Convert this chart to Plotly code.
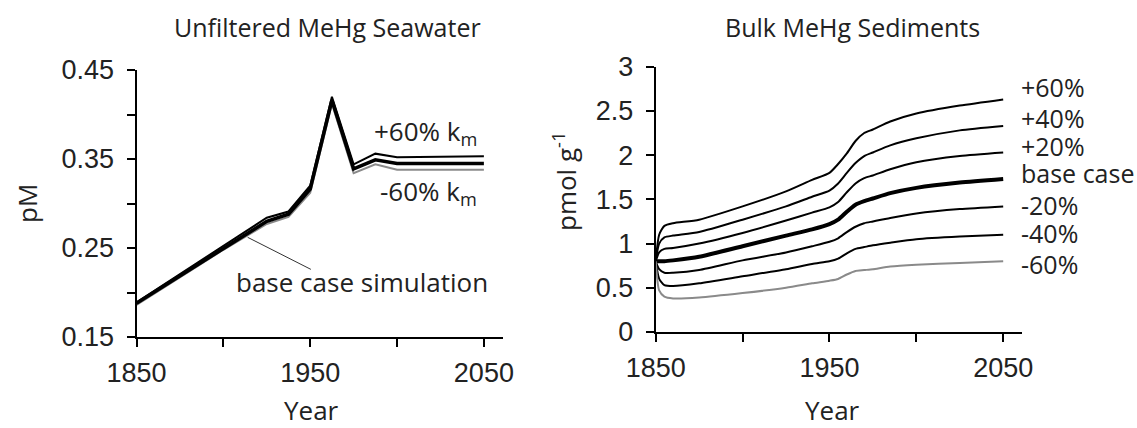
import plotly.graph_objects as go

W, H = 1137, 428

# ---- Left panel: Unfiltered MeHg Seawater (pM) ----
sw_years = [1850, 1875, 1900, 1925, 1937.5, 1950, 1962.5, 1975, 1987.5, 2000, 2050]
sw_plus60 = [0.189, 0.221, 0.252, 0.284, 0.291, 0.320, 0.420, 0.344, 0.356, 0.352, 0.353]
sw_base = [0.188, 0.219, 0.250, 0.280, 0.288, 0.316, 0.416, 0.339, 0.349, 0.345, 0.345]
sw_minus60 = [0.186, 0.217, 0.248, 0.277, 0.285, 0.312, 0.412, 0.334, 0.344, 0.338, 0.338]

# ---- Right panel: Bulk MeHg Sediments (pmol g-1) ----
sed_years = [1850, 1852, 1855, 1860, 1875, 1900, 1925, 1940, 1950, 1955, 1960,
             1965, 1970, 1975, 1985, 2000, 2025, 2050]
sed_plus60 = [0.80, 1.10, 1.20, 1.23, 1.27, 1.42, 1.59, 1.72, 1.80, 1.90, 2.02,
              2.16, 2.25, 2.29, 2.38, 2.47, 2.56, 2.63]
sed_plus40 = [0.80, 1.00, 1.07, 1.09, 1.13, 1.27, 1.42, 1.53, 1.60, 1.68, 1.80,
              1.91, 1.99, 2.03, 2.11, 2.19, 2.28, 2.33]
sed_plus20 = [0.80, 0.90, 0.94, 0.95, 1.00, 1.12, 1.26, 1.35, 1.41, 1.47, 1.58,
              1.68, 1.74, 1.77, 1.84, 1.92, 1.99, 2.03]
sed_base = [0.80, 0.80, 0.80, 0.81, 0.85, 0.97, 1.09, 1.16, 1.22, 1.27, 1.36,
            1.44, 1.48, 1.51, 1.57, 1.63, 1.69, 1.73]
sed_minus20 = [0.80, 0.71, 0.67, 0.67, 0.70, 0.81, 0.90, 0.97, 1.02, 1.06, 1.13,
               1.19, 1.23, 1.25, 1.29, 1.34, 1.39, 1.42]
sed_minus40 = [0.80, 0.60, 0.53, 0.52, 0.55, 0.63, 0.71, 0.77, 0.80, 0.83, 0.89,
               0.94, 0.96, 0.98, 1.01, 1.05, 1.08, 1.10]
sed_minus60 = [0.80, 0.47, 0.40, 0.38, 0.39, 0.44, 0.50, 0.55, 0.58, 0.60, 0.65,
               0.69, 0.70, 0.71, 0.74, 0.76, 0.78, 0.80]

sed_labels = ["+60%", "+40%", "+20%", "base case", "-20%", "-40%", "-60%"]

x_ticks = [1850, 1950, 2050]
x_minor = [1900, 2000]
y1_ticks = [0.15, 0.25, 0.35, 0.45]
y1_minor = [0.20, 0.30, 0.40]
y2_ticks = [0, 0.5, 1, 1.5, 2, 2.5, 3]

HUM = "'Open Sans', sans-serif"
NUM = "'Liberation Sans', Arial, sans-serif"


def px(x):
    return x / W


def py(y):
    return 1 - y / H


fig = go.Figure()

# left panel traces
fig.add_trace(go.Scatter(x=sw_years, y=sw_minus60, mode="lines",
                         line=dict(color="#8a8a8a", width=2), xaxis="x", yaxis="y"))
fig.add_trace(go.Scatter(x=sw_years, y=sw_plus60, mode="lines",
                         line=dict(color="black", width=2), xaxis="x", yaxis="y"))
fig.add_trace(go.Scatter(x=sw_years, y=sw_base, mode="lines",
                         line=dict(color="black", width=3.5), xaxis="x", yaxis="y"))

# right panel traces
sed_series = [sed_plus60, sed_plus40, sed_plus20, sed_base, sed_minus20, sed_minus40, sed_minus60]
for lab, vals in zip(sed_labels, sed_series):
    if lab == "base case":
        ln = dict(color="black", width=4, shape="spline", smoothing=0.6)
    elif lab == "-60%":
        ln = dict(color="#8a8a8a", width=2, shape="spline", smoothing=0.6)
    else:
        ln = dict(color="black", width=2, shape="spline", smoothing=0.6)
    fig.add_trace(go.Scatter(x=sed_years, y=vals, mode="lines", line=ln,
                             xaxis="x2", yaxis="y2"))

axis_common = dict(showgrid=False, zeroline=False, showline=True, linecolor="black",
                   linewidth=2, ticks="outside", ticklen=8, tickwidth=2, tickcolor="black",
                   automargin=False,
                   tickfont=dict(family=NUM, size=27, color="#222"))


def minor(vals):
    return dict(tickvals=vals, ticks="outside", ticklen=8, tickwidth=2,
                tickcolor="black", showgrid=False)


fig.update_layout(
    width=W, height=H, autosize=False,
    margin=dict(l=0, r=0, t=0, b=0, pad=0),
    paper_bgcolor="white", plot_bgcolor="white",
    showlegend=False,
    xaxis=dict(domain=[px(136.5), px(503)], range=[1850, 2061], tickvals=x_ticks,
               minor=minor(x_minor), anchor="y", ticklabelstandoff=3, **axis_common),
    yaxis=dict(domain=[py(337), py(70)], range=[0.15, 0.45], tickvals=y1_ticks,
               tickformat=".2f", minor=minor(y1_minor), anchor="x",
               ticklabelstandoff=7, **axis_common),
    xaxis2=dict(domain=[px(655.7), px(1022.3)], range=[1850, 2061], tickvals=x_ticks,
                minor=minor(x_minor), anchor="y2", ticklabelstandoff=3, **axis_common),
    yaxis2=dict(domain=[py(332), py(66.7)], range=[0, 3], tickvals=y2_ticks,
                anchor="x2", ticklabelstandoff=7, **axis_common),
)

# leader line for base case simulation
fig.add_shape(type="line", xref="x", yref="y", x0=1914, y0=0.262, x1=1950.4, y1=0.226,
              line=dict(color="#333", width=1))


def ann(text, x, y, size=26, xanchor="center", angle=0, family=HUM):
    fig.add_annotation(text=text, x=px(x), y=py(y), xref="paper", yref="paper",
                       showarrow=False, xanchor=xanchor, yanchor="middle",
                       textangle=angle, font=dict(family=family, size=size, color="#222"))


ann("Unfiltered MeHg Seawater", 327.5, 27, size=25)
ann("Bulk MeHg Sediments", 852, 27, size=25)
ann("Year", 311, 410)
ann("Year", 832, 410)
ann("pM", 27, 203, angle=-90)
ann("pmol g<sup>-1</sup>", 565, 182, angle=-90)
ann("+60% k<sub>m</sub>", 371.7, 131.7, xanchor="left")
ann("-60% k<sub>m</sub>", 378, 191.7, xanchor="left")
ann("base case simulation", 234, 281.7, xanchor="left")

sed_label_y = [86.7, 118.3, 146, 172.7, 205, 233.3, 264]
for lab, yy in zip(sed_labels, sed_label_y):
    ann(lab, 1019, yy, size=25, xanchor="left")

fig.write_html("out.html")
